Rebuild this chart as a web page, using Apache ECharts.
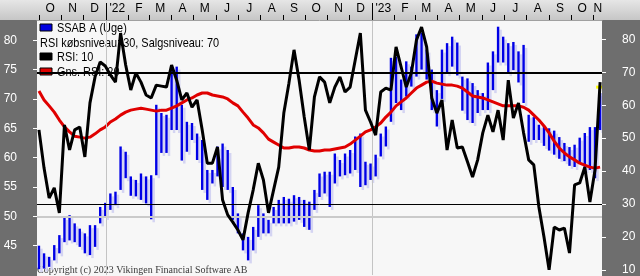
<!DOCTYPE html>
<html><head><meta charset="utf-8">
<script src="https://cdn.jsdelivr.net/npm/echarts@6/dist/echarts.min.js"></script>
<style>html,body{margin:0;padding:0;background:#fff}#c{width:640px;height:276px}</style>
</head><body><div id="c"></div>
<script>
// ---- data (weekly bars, first week 2021-10-01) ----
const firstWeek = [2021, 9, 1];
const priceHigh = [
 45.0,43.7,43.1,45.1,46.8,49.9,50.2,48.8,47.9,47.1,
 48.5,48.5,51.6,52.3,53.9,54.2,61.9,61.0,56.8,56.2,
 57.3,56.8,57.0,69.0,67.6,67.3,75.5,75.5,69.0,66.1,
 65.9,64.1,63.0,57.9,57.9,61.9,62.4,61.3,55.0,50.5,
 47.1,46.5,48.2,51.9,50.5,49.4,51.6,52.8,53.3,53.0,
 53.6,53.3,52.8,52.5,54.5,57.3,57.6,57.6,60.7,59.6,
 60.7,61.3,63.6,64.1,59.3,59.0,60.5,64.1,65.3,77.0,
 77.2,73.3,76.4,75.5,81.0,81.3,78.4,75.0,71.5,78.4,
 79.5,80.6,79.6,73.8,73.5,72.7,71.5,71.0,76.2,78.1,
 82.3,80.6,79.5,79.7,78.1,79.2,67.3,66.9,65.6,65.4,
 65.0,64.6,63.5,62.5,61.8,62.2,63.4,64.2,65.2,65.2,71.0];
const priceLow = [
 41.0,41.1,41.4,42.5,43.7,45.6,45.9,45.6,44.8,43.7,
 43.4,44.8,48.8,49.9,51.1,51.9,54.5,56.5,53.5,53.4,
 52.8,52.2,49.5,57.0,60.8,60.8,64.7,64.7,59.5,61.0,
 63.0,59.6,54.5,52.8,55.6,56.8,55.0,54.5,49.4,47.1,
 44.2,42.5,44.2,46.5,47.1,47.1,48.8,48.8,48.8,48.8,
 49.1,49.4,48.2,47.7,51.1,53.3,53.9,51.6,55.6,56.8,
 57.0,57.3,57.9,55.0,55.3,56.2,56.8,60.2,61.9,66.1,
 69.3,68.1,70.4,72.1,73.8,75.0,73.3,68.1,65.3,70.0,
 74.4,75.5,74.0,68.0,66.4,65.9,67.6,68.1,68.1,71.5,
 76.2,76.2,74.4,74.9,72.8,69.3,62.7,63.0,63.0,62.0,
 61.2,60.5,59.8,59.4,58.6,58.4,59.1,57.9,57.9,56.5,64.7];
const rsi = [
 52.5,40.9,31.8,34.9,27.3,54.0,46.4,52.5,53.4,44.3,
 60.7,68.6,73.1,71.9,69.2,67.0,81.9,72.2,64.6,69.8,
 67.0,63.1,62.2,66.1,65.8,65.5,72.2,67.6,61.6,63.7,
 59.4,61.6,52.5,42.4,42.4,47.3,31.2,26.7,24.5,22.1,
 19.1,27.3,34.3,42.4,37.3,27.3,34.3,41.2,57.6,66.7,
 76.8,67.6,56.4,46.4,62.5,68.6,67.0,60.7,65.5,68.6,
 64.0,65.5,73.7,81.9,58.5,54.9,50.9,64.0,65.2,64.6,
 77.7,71.6,65.5,69.8,79.8,83.7,77.7,62.2,57.6,61.6,
 46.4,55.5,47.0,47.3,42.8,38.2,43.4,51.6,57.0,51.9,
 58.5,49.4,67.6,56.1,60.7,51.6,43.4,41.9,29.1,20.0,
 10.0,23.0,22.1,22.7,15.1,35.8,36.4,41.2,30.6,40.3,67.0];
const rsiAvg = [
 64.3,61.6,59.8,57.9,55.5,53.4,51.9,50.6,50.3,50.0,
 50.3,51.3,52.5,53.4,54.9,55.8,57.0,57.9,58.5,58.8,
 59.1,58.8,58.5,58.2,58.5,58.5,59.1,59.8,60.7,61.6,
 62.2,63.1,63.7,63.7,63.1,62.8,62.5,61.9,60.7,59.8,
 57.9,56.1,54.0,53.1,51.6,49.7,48.8,47.9,47.0,47.0,
 47.3,47.3,47.0,46.4,46.1,46.1,46.4,46.4,46.7,47.0,
 47.3,48.2,49.4,50.6,51.9,52.5,53.4,54.6,56.4,57.9,
 59.8,61.0,62.2,63.7,65.2,66.1,67.0,67.3,66.7,66.4,
 66.1,66.1,65.8,65.2,64.0,62.8,62.5,62.2,61.6,61.0,
 60.4,59.8,59.8,59.8,59.8,59.4,58.5,57.0,55.5,53.7,
 51.6,49.1,47.0,45.5,44.3,43.4,42.4,41.8,41.2,40.9,41.2];
const monthLabels = ['O','N','D',"'22",'F','M','A','M','J','J','A','S','O','N','D',"'23",'F','M','A','M','J','J','A','S','O','N'];
const firstMonth = [2021, 9];
const yearStarts = [2022, 2023];
const priceTicks = [45,50,55,60,65,70,75,80];
const rsiTicks = [10,20,30,40,50,60,70,80];
const rsiLevels = [30, 70];
const priceGridLevels = [50];
const legendLabels = ['SSAB A (Uge)', 'RSI købsniveau: 30, Salgsniveau: 70', 'RSI: 10', 'Gns. RSI: 20'];
const copyrightText = 'Copyright (c) 2023 Vikingen Financial Software AB';

// ---- derived ----
const DAY = 86400000;
const xMin = Date.UTC(2021, 8, 28, 7, 40);
const xMax = Date.UTC(2023, 10, 12, 14, 24);
const weekTs = priceHigh.map((_, i) => Date.UTC(firstWeek[0], firstWeek[1], firstWeek[2]) + i * 7 * DAY);
const monthStarts = monthLabels.map((_, k) => Date.UTC(firstMonth[0], firstMonth[1] + k, 1));
const monthMids = monthLabels.map((_, k) => {
  const s = Math.max(monthStarts[k], xMin);
  const e = Math.min(Date.UTC(firstMonth[0], firstMonth[1] + k + 1, 1), xMax);
  return Math.round((s + e) / 2);
});
const labelMap = {};
monthMids.forEach((v, k) => labelMap[v] = monthLabels[k]);
const yearTs = yearStarts.map(y => Date.UTC(y, 0, 1));
const barData = weekTs.map((t, i) => [t, priceHigh[i], priceLow[i]]);
const rsiData = weekTs.map((t, i) => [t, rsi[i]]);
const avgData = weekTs.map((t, i) => [t, rsiAvg[i]]);

const F = "'Liberation Sans',Arial,sans-serif";
const PANEL = '#6e6e6e';
function barRenderer(color, dx, dy, w) {
  return function (params, api) {
    const t = api.value(0), h = api.value(1), l = api.value(2);
    const a = api.coord([t, h]), b = api.coord([t, l]);
    return {type: 'line', shape: {x1: a[0] + dx, y1: a[1] + dy, x2: b[0] + dx, y2: b[1] + dy},
      style: {stroke: color, lineWidth: w}};
  };
}

const chart = echarts.init(document.getElementById('c'));
const legendRows = [{icon: '#0000e0', y: 28}, {icon: null, y: 43}, {icon: '#000000', y: 57}, {icon: '#e00000', y: 72}];
const graphics = [
  {type: 'rect', shape: {x: 37, y: 20, width: 565, height: 256}, style: {fill: '#f7f7f7'}, z: 0, silent: true},
  {type: 'text', x: 37, y: 265, z: 1, silent: true, style: {text: copyrightText, fill: '#3a3a3a', font: "10px 'Liberation Serif', serif"}},
  {type: 'rect', shape: {x: 0, y: 20, width: 37, height: 256}, style: {fill: PANEL}, z: 20, silent: true},
  {type: 'rect', shape: {x: 602, y: 20, width: 38, height: 256}, style: {fill: PANEL}, z: 20, silent: true},
  {type: 'rect', shape: {x: 0, y: 0, width: 640, height: 20}, z: 20, silent: true,
   style: {fill: {type: 'linear', x: 0, y: 0, x2: 0, y2: 1, colorStops: [{offset: 0, color: '#e6e6e6'}, {offset: 1, color: '#c6c6c6'}]}}}
];
legendRows.forEach((r, k) => {
  if (r.icon) graphics.push({type: 'rect', shape: {x: 40, y: r.y - 4, width: 12, height: 7}, z: 1, silent: true, style: {fill: r.icon, stroke: '#000', lineWidth: 1}});
  graphics.push({type: 'text', x: r.icon ? 57 : 40, y: r.y, z: 1, silent: true, scaleX: 0.84,
    style: {text: legendLabels[k], fill: '#000', font: '13px ' + F, verticalAlign: 'middle'}});
});

const gridBase = {left: 37, right: 38, show: false, outerBoundsMode: 'none'};
chart.setOption({
  animation: false,
  graphic: {elements: graphics},
  grid: [
    Object.assign({top: 10.85, height: 264.2}, gridBase),
    Object.assign({top: 6.4, height: 296.4}, gridBase),
    Object.assign({top: 20, height: 200}, gridBase),
    Object.assign({top: 20, height: 200}, gridBase)
  ],
  xAxis: [
    {gridIndex: 0, type: 'value', min: xMin, max: xMax, show: false},
    {gridIndex: 1, type: 'value', min: xMin, max: xMax, show: false},
    {gridIndex: 2, type: 'value', min: xMin, max: xMax, position: 'top', z: 30,
     axisLine: {show: true, onZero: false, lineStyle: {color: '#a0a0a0'}},
     axisTick: {show: true, customValues: monthStarts, length: 5, lineStyle: {color: '#000'}},
     axisLabel: {show: true, customValues: monthMids, margin: 5, color: '#000', fontSize: 12, fontFamily: F, formatter: v => labelMap[v] || ''},
     splitLine: {show: false}},
    {gridIndex: 3, type: 'value', min: xMin, max: xMax, position: 'top', z: 31,
     axisLine: {show: false, onZero: false},
     axisTick: {show: true, customValues: yearTs, length: 17, lineStyle: {color: '#000'}},
     axisLabel: {show: false}, splitLine: {show: false}}
  ],
  yAxis: [
    {gridIndex: 0, type: 'value', min: 40, max: 85, position: 'left', z: 30, axisLine: {show: false},
     axisTick: {show: true, customValues: priceTicks, length: 4, lineStyle: {color: '#fff'}},
     axisLabel: {show: true, customValues: priceTicks, margin: 20, color: '#fff', fontSize: 12, fontFamily: F}, splitLine: {show: false}},
    {gridIndex: 1, type: 'value', min: 0, max: 90, position: 'right', z: 30, axisLine: {show: false},
     axisTick: {show: true, customValues: rsiTicks, length: 4, lineStyle: {color: '#fff'}},
     axisLabel: {show: true, customValues: rsiTicks, margin: 20, color: '#fff', fontSize: 12, fontFamily: F}, splitLine: {show: false}},
    {gridIndex: 2, type: 'value', show: false},
    {gridIndex: 3, type: 'value', show: false}
  ],
  series: [
    {type: 'line', id: 'grid-lines', xAxisIndex: 0, yAxisIndex: 0, data: [], z: 1,
     markLine: {silent: true, symbol: 'none', label: {show: false},
       data: yearTs.map(t => ({xAxis: t, lineStyle: {color: '#c4c4c4', width: 1, type: 'solid'}}))
         .concat(priceGridLevels.map(v => ({yAxis: v, lineStyle: {color: '#cacaca', width: 2, type: 'solid'}})))}},
    {type: 'custom', id: 'shadow', xAxisIndex: 0, yAxisIndex: 0, data: barData, encode: {x: 0, y: [1, 2]},
     renderItem: barRenderer('#d4d4f2', 2.5, 3, 2.5), silent: true, z: 2},
    {type: 'custom', id: 'bars', name: legendLabels[0], xAxisIndex: 0, yAxisIndex: 0, data: barData, encode: {x: 0, y: [1, 2]},
     renderItem: barRenderer('#0000e6', 0, 0, 2.4), silent: true, z: 3},
    {type: 'line', id: 'avg', name: legendLabels[3], xAxisIndex: 1, yAxisIndex: 1, data: avgData, symbol: 'none',
     lineStyle: {color: '#e00000', width: 3}, z: 4, silent: true},
    {type: 'line', id: 'rsi', name: legendLabels[2], xAxisIndex: 1, yAxisIndex: 1, data: rsiData, symbol: 'none',
     lineStyle: {color: '#000', width: 3}, z: 5, silent: true,
     markLine: {silent: true, symbol: 'none', label: {show: false},
       data: rsiLevels.map(v => ({yAxis: v, lineStyle: {color: '#000', width: v === 70 ? 2 : 1, type: 'solid'}}))},
     markPoint: {silent: true, label: {show: false},
       data: [{coord: rsiData[rsiData.length - 1], symbol: 'rect', symbolSize: [6, 3], symbolOffset: [-1, 5], itemStyle: {color: '#ffff00'}}]}}
  ]
});
</script>
</body></html>
